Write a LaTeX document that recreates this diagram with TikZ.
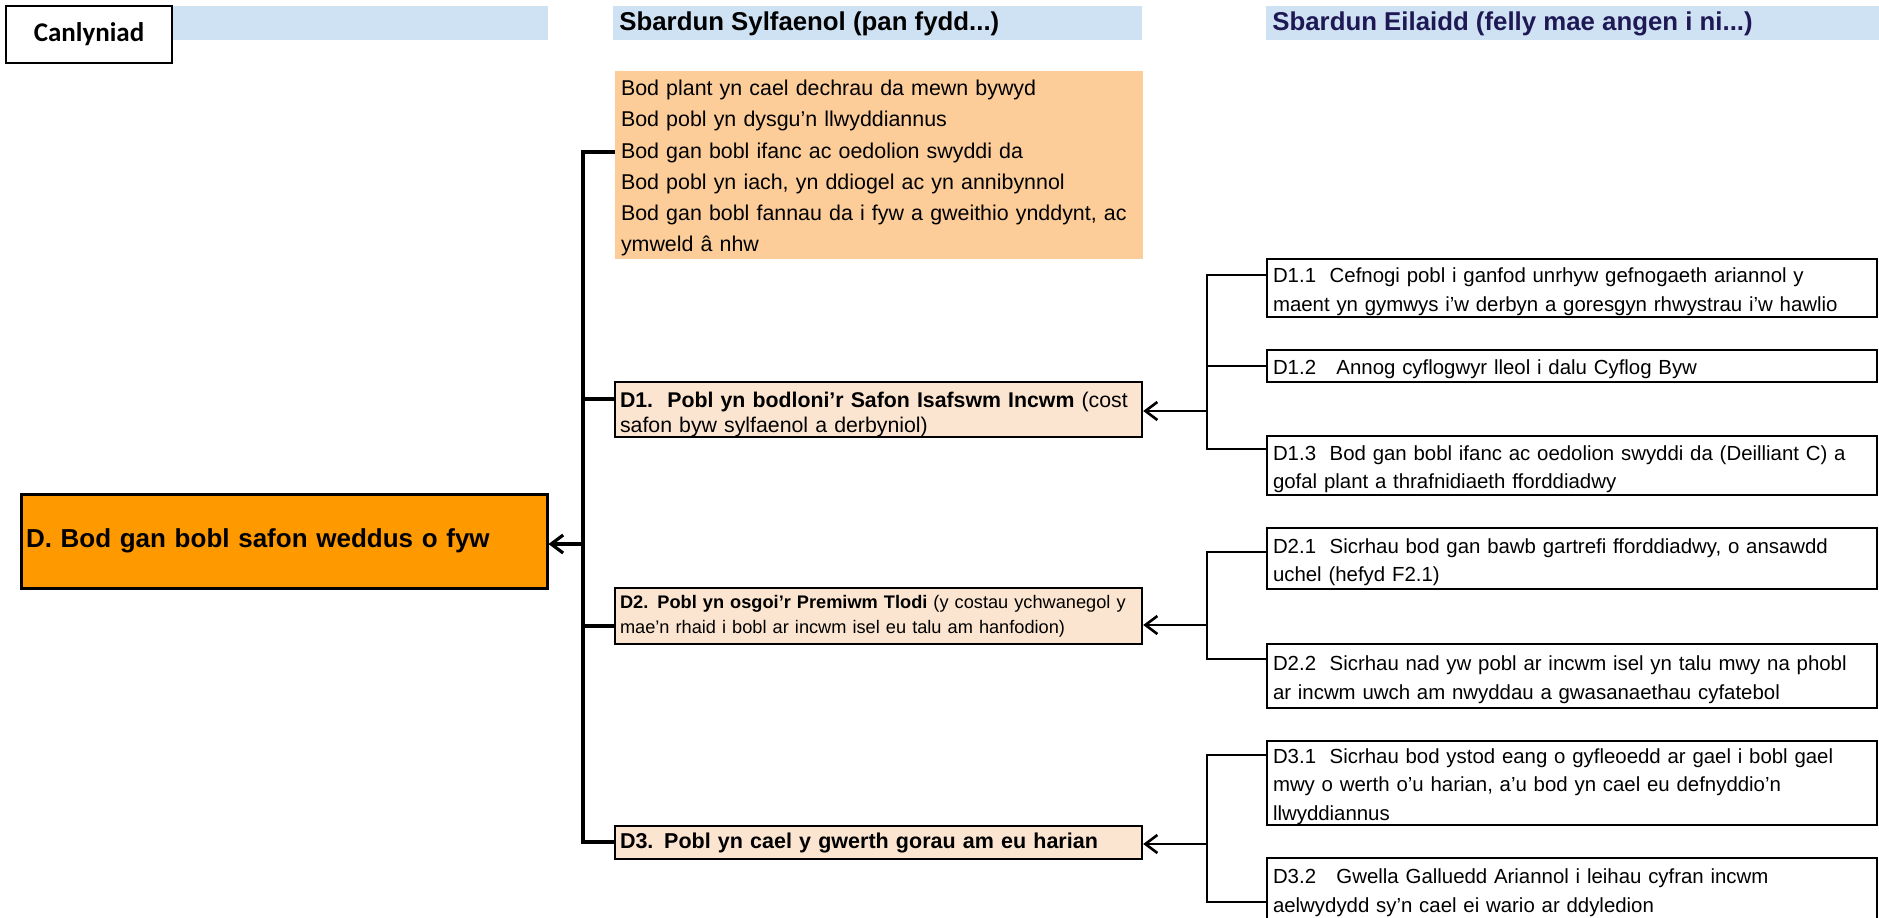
\documentclass[tikz,border=0pt]{standalone}
\usepackage{fontspec}
\setmainfont{Liberation Sans}
\newfontfamily\calibrifont{Carlito}
\usetikzlibrary{arrows.meta}

\definecolor{bandlas}{RGB}{207,226,243}
\definecolor{orenllachar}{RGB}{255,153,0}
\definecolor{eirinwlanog}{RGB}{252,204,153}
\definecolor{hufen}{RGB}{252,229,208}
\definecolor{glastywyll}{RGB}{30,24,84}

\begin{document}
\begin{tikzpicture}[x=0.5pt,y=-0.5pt,>={Straight Barb[length=6pt,width=9pt]},
  pennawd/.style={anchor=west,inner sep=0pt,font=\bfseries\fontsize{12.9}{15}\selectfont},
  gostwng/.style={execute at begin node={\rule{0pt}{#1}}},
  prif/.style={draw,line width=1.2pt,fill=hufen,text width=258.5pt,inner xsep=2.5pt,inner ysep=0pt,align=left},
  eilradd/.style={draw,line width=1.1pt,text width=299pt,inner xsep=3pt,inner ysep=0pt,align=left,font=\fontsize{10.2}{14.2}\selectfont,gostwng=11pt},
  boncyff/.style={line width=1.6pt},
  cangen/.style={line width=1.3pt}]

  \useasboundingbox (0,0) rectangle (1879,917);

  % Bandiau pennawd
  \fill[bandlas] (172,6) rectangle (548,40);
  \fill[bandlas] (613,6) rectangle (1142,40);
  \fill[bandlas] (1266,6) rectangle (1879,40);
  \node[draw,line width=1.2pt,fill=white,minimum width=83pt,minimum height=28.5pt,font=\calibrifont\bfseries\fontsize{13.5}{16}\selectfont] (canlyniad) at (89,34.5) {Canlyniad};
  \node[pennawd] (sylfaenol) at (619,24) {Sbardun Sylfaenol (pan fydd...)};
  \node[pennawd,text=glastywyll] (eilaidd) at (1272,24) {Sbardun Eilaidd (felly mae angen i ni...)};

  % Canlyniad D
  \node[draw,line width=1.5pt,fill=orenllachar,minimum height=47pt,text width=258pt,inner xsep=2.5pt,align=left,font=\bfseries\fontsize{13}{15}\selectfont] (canlD) at (284,541) {D. Bod gan bobl safon weddus o fyw};

  % Sbardunau sylfaenol
  \node[fill=eirinwlanog,minimum height=94pt,text width=258pt,inner xsep=3pt,inner ysep=0pt,align=left,font=\fontsize{10.7}{15.6}\selectfont,gostwng=11pt] (sylfaen) at (879,165)
    {Bod plant yn cael dechrau da mewn bywyd\\
     Bod pobl yn dysgu’n llwyddiannus\\
     Bod gan bobl ifanc ac oedolion swyddi da\\
     Bod pobl yn iach, yn ddiogel ac yn annibynnol\\
     Bod gan bobl fannau da i fyw a gweithio ynddynt, ac\\
     ymweld â nhw};
  \node[prif,minimum height=27.5pt,font=\fontsize{10.65}{12.5}\selectfont,gostwng=12.5pt] (d1) at (878.5,409.5)
    {\textbf{D1.\ \ Pobl yn bodloni’r Safon Isafswm Incwm} (cost\\safon byw sylfaenol a derbyniol)};
  \node[prif,minimum height=28pt,font=\fontsize{9.1}{12.5}\selectfont] (d2) at (878.5,616)
    {\textbf{D2. Pobl yn osgoi’r Premiwm Tlodi} (y costau ychwanegol y\\mae’n rhaid i bobl ar incwm isel eu talu am hanfodion)};
  \node[prif,minimum height=16.5pt,font=\bfseries\fontsize{10.75}{12.5}\selectfont] (d3) at (878.5,842.5)
    {D3. Pobl yn cael y gwerth gorau am eu harian};

  % Sbardunau eilaidd
  \node[eilradd,minimum height=29pt] (d11) at (1572,288)
    {D1.1\ \ Cefnogi pobl i ganfod unrhyw gefnogaeth ariannol y\\maent yn gymwys i’w derbyn a goresgyn rhwystrau i’w hawlio};
  \node[eilradd,minimum height=16pt,execute at begin node={}] (d12) at (1572,366)
    {D1.2\ \ \ Annog cyflogwyr lleol i dalu Cyflog Byw};
  \node[eilradd,minimum height=29.5pt] (d13) at (1572,465.5)
    {D1.3\ \ Bod gan bobl ifanc ac oedolion swyddi da (Deilliant C) a\\gofal plant a thrafnidiaeth fforddiadwy};
  \node[eilradd,minimum height=30.5pt] (d21) at (1572,558.5)
    {D2.1\ \ Sicrhau bod gan bawb gartrefi fforddiadwy, o ansawdd\\uchel (hefyd F2.1)};
  \node[eilradd,minimum height=32pt] (d22) at (1572,676)
    {D2.2\ \ Sicrhau nad yw pobl ar incwm isel yn talu mwy na phobl\\ar incwm uwch am nwyddau a gwasanaethau cyfatebol};
  \node[eilradd,minimum height=42pt] (d31) at (1572,783)
    {D3.1\ \ Sicrhau bod ystod eang o gyfleoedd ar gael i bobl gael\\mwy o werth o’u harian, a’u bod yn cael eu defnyddio’n\\llwyddiannus};
  \node[eilradd,minimum height=31pt] (d32) at (1572,889)
    {D3.2\ \ \ Gwella Galluedd Ariannol i leihau cyfran incwm\\aelwydydd sy’n cael ei wario ar ddyledion};

  % Boncyff
  \coordinate (brig) at (583,152);
  \coordinate (gwaelod) at (583,842);
  \coordinate (c0) at (583,544);
  \coordinate (c1) at (583,399);
  \coordinate (c2) at (583,626);
  \draw[boncyff] (sylfaen.west |- brig) -- (brig) -- (gwaelod) -- (gwaelod -| d3.west);
  \draw[boncyff] (c1) -- (c1 -| d1.west);
  \draw[boncyff] (c2) -- (c2 -| d2.west);
  \draw[boncyff,->] (c0) -- (c0 -| canlD.east);

  % Cromfachau D1
  \coordinate (e11) at (1207,275);
  \coordinate (e12) at (1207,366);
  \coordinate (e13) at (1207,449);
  \coordinate (e1) at (1207,411);
  \draw[cangen] (e11 -| d11.west) -- (e11) -- (e13) -- (e13 -| d13.west);
  \draw[cangen] (e12) -- (e12 -| d12.west);
  \draw[cangen,->] (e1) -- (e1 -| d1.east);

  % Cromfachau D2
  \coordinate (e21) at (1207,552);
  \coordinate (e22) at (1207,659);
  \coordinate (e2) at (1207,625);
  \draw[cangen] (e21 -| d21.west) -- (e21) -- (e22) -- (e22 -| d22.west);
  \draw[cangen,->] (e2) -- (e2 -| d2.east);

  % Cromfachau D3
  \coordinate (e31) at (1207,755);
  \coordinate (e32) at (1207,902);
  \coordinate (e3) at (1207,844);
  \draw[cangen] (e31 -| d31.west) -- (e31) -- (e32) -- (e32 -| d32.west);
  \draw[cangen,->] (e3) -- (e3 -| d3.east);
\end{tikzpicture}
\end{document}
